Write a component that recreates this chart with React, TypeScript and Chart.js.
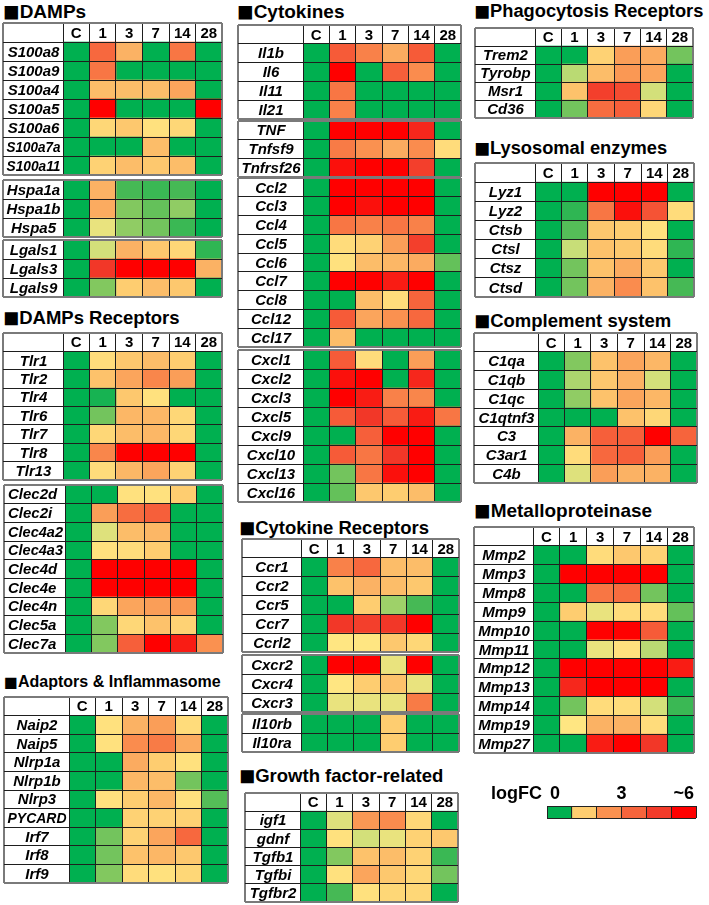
import React, { useEffect, useRef } from 'react';
import { Chart, registerables } from 'chart.js';
Chart.register(...registerables);

// ---------- data ----------
const timeLabels = ['C', '1', '3', '7', '14', '28'];

const s100Genes = ['S100a8', 'S100a9', 'S100a4', 'S100a5', 'S100a6', 'S100a7a', 'S100a11'];
const s100LogFC = [
  [0, 3.3, 2.0, 0, 3.0, 0],
  [0, 3.0, 0, 0, 0, 0],
  [0, 1.8, 1.8, 1.8, 2.2, 0],
  [0, 5.5, 0, 0, 0, 5.5],
  [0, 1.3, 1.6, 1.1, 1.3, 0],
  [0, 0, 0, 1.8, 0, 0],
  [0, 1.4, 1.8, 1.6, 1.8, 0],
];
const hspGenes = ['Hspa1a', 'Hspa1b', 'Hspa5'];
const hspLogFC = [
  [0, 2.0, 0.3, 0.25, 0.3, 0],
  [0, 2.1, 0.5, 0.4, 0.55, 0],
  [0, 0.9, 0.55, 0.45, 0.25, 0],
];
const lgalsGenes = ['Lgals1', 'Lgals3', 'Lgals9'];
const lgalsLogFC = [
  [0, 0.8, 2.0, 1.6, 1.3, 0.2],
  [0, 4.5, 5.5, 5.5, 5.5, 2.0],
  [0, 0.5, 1.5, 1.8, 1.6, 0],
];
const tlrGenes = ['Tlr1', 'Tlr2', 'Tlr4', 'Tlr6', 'Tlr7', 'Tlr8', 'Tlr13'];
const tlrLogFC = [
  [0, 1.2, 1.6, 1.8, 1.5, 0],
  [0, 1.7, 2.2, 2.7, 2.3, 0],
  [0, 0.1, 1.6, 1.1, 0, 0],
  [0, 0.45, 1.9, 1.9, 1.3, 0],
  [0, 1.3, 1.8, 1.9, 1.3, 0],
  [0, 2.7, 5.5, 5.5, 5.5, 0],
  [0, 1.2, 1.9, 2.2, 1.4, 0],
];
const clecGenes = ['Clec2d', 'Clec2i', 'Clec4a2', 'Clec4a3', 'Clec4d', 'Clec4e', 'Clec4n', 'Clec5a', 'Clec7a'];
const clecLogFC = [
  [0, 0, 1.1, 1.1, 1.5, 0],
  [0, 2.3, 3.2, 3.5, 0, 0],
  [0, 0.85, 1.8, 1.9, 0, 0],
  [0, 1.1, 1.2, 1.5, 0, 0],
  [0, 5.5, 5.5, 5.5, 5.5, 0],
  [0, 5.5, 5.5, 5.5, 5.5, 0],
  [0, 1.3, 2.2, 2.3, 2.4, 0],
  [0, 0.5, 1.3, 1.7, 1.4, 0],
  [0, 0.5, 3.5, 5.5, 5.0, 2.5],
];
const adaptorGenes = ['Naip2', 'Naip5', 'Nlrp1a', 'Nlrp1b', 'Nlrp3', 'PYCARD', 'Irf7', 'Irf8', 'Irf9'];
const adaptorLogFC = [
  [0, 1.1, 2.0, 2.3, 1.2, 0],
  [0, 1.1, 2.6, 2.9, 2.1, 0],
  [0, 0, 2.1, 1.5, 1.1, 0],
  [0, 0, 1.9, 1.8, 0.45, 0],
  [0, 1.1, 1.5, 1.9, 1.1, 0.35],
  [0, 0, 1.4, 1.4, 1.4, 0],
  [0, 0.45, 1.4, 2.2, 3.3, 0],
  [0, 0.45, 1.7, 1.9, 1.6, 0],
  [0, 0.5, 1.2, 1.1, 1.3, 0],
];
const ilGenes = ['Il1b', 'Il6', 'Il11', 'Il21'];
const ilLogFC = [
  [0, 3.6, 2.8, 2.1, 3.6, 0],
  [0, 5.5, 0, 3.5, 2.6, 0],
  [0, 3.0, 0, 0, 0, 0],
  [0, 2.8, 0, 0, 0, 0],
];
const tnfGenes = ['TNF', 'Tnfsf9', 'Tnfrsf26'];
const tnfLogFC = [
  [0, 5.5, 5.5, 5.5, 4.8, 0],
  [0, 2.9, 2.5, 2.1, 2.6, 1.2],
  [0, 5.2, 5.5, 5.5, 4.3, 0],
];
const cclGenes = ['Ccl2', 'Ccl3', 'Ccl4', 'Ccl5', 'Ccl6', 'Ccl7', 'Ccl8', 'Ccl12', 'Ccl17'];
const cclLogFC = [
  [0, 5.5, 5.5, 5.5, 5.5, 0],
  [0, 5.5, 5.2, 5.5, 5.5, 0],
  [0, 3.0, 2.8, 3.0, 2.8, 0],
  [0, 1.2, 1.4, 2.3, 4.3, 0],
  [0, 1.1, 1.8, 1.9, 2.1, 0.4],
  [0, 5.5, 5.5, 5.0, 5.5, 0],
  [0, 0, 1.8, 1.2, 3.4, 0],
  [0, 3.6, 2.2, 2.5, 3.3, 0],
  [0, 1.8, 0, 0, 0, 0],
];
const cxclGenes = ['Cxcl1', 'Cxcl2', 'Cxcl3', 'Cxcl5', 'Cxcl9', 'Cxcl10', 'Cxcl13', 'Cxcl16'];
const cxclLogFC = [
  [0, 3.6, 1.2, 0, 2.3, 0],
  [0, 5.2, 5.5, 0, 4.8, 0],
  [0, 5.5, 5.0, 2.8, 2.7, 0],
  [0, 3.6, 4.5, 3.6, 5.0, 3.0],
  [0, 0, 3.5, 5.5, 5.5, 0],
  [0, 3.6, 3.0, 4.5, 5.5, 0],
  [0, 0.45, 3.0, 5.2, 5.5, 0],
  [0, 0.4, 1.6, 1.5, 1.8, 0],
];
const ccrGenes = ['Ccr1', 'Ccr2', 'Ccr5', 'Ccr7', 'Ccrl2'];
const ccrLogFC = [
  [0, 2.8, 3.3, 1.8, 1.8, 0],
  [0, 1.7, 2.0, 1.8, 1.6, 0],
  [0, 0, 1.5, 0.6, 0.3, 0],
  [0, 4.5, 4.3, 4.5, 5.5, 0],
  [0, 1.0, 1.0, 1.6, 1.3, 0],
];
const cxcrGenes = ['Cxcr2', 'Cxcr4', 'Cxcr3'];
const cxcrLogFC = [
  [0, 5.5, 5.5, 0.9, 5.5, 0],
  [0, 1.0, 1.5, 1.7, 0.9, 0],
  [0, 0.9, 0.9, 0.9, 2.9, 0],
];
const il10Genes = ['Il10rb', 'Il10ra'];
const il10LogFC = [
  [0, 0, 0, 1.5, 0, 0],
  [0, 0, 0, 1.5, 0, 0],
];
const growthGenes = ['igf1', 'gdnf', 'Tgfb1', 'Tgfbi', 'Tgfbr2'];
const growthLogFC = [
  [0, 0.85, 2.4, 2.6, 1.3, 0],
  [0, 1.1, 0.8, 0.9, 1.4, 1.6],
  [0, 0.5, 1.7, 1.8, 1.4, 0.25],
  [0, 1.1, 2.2, 1.6, 1.3, 0.45],
  [0, 0.3, 1.1, 1.3, 1.3, 0],
];
const phagoGenes = ['Trem2', 'Tyrobp', 'Msr1', 'Cd36'];
const phagoLogFC = [
  [0, 0, 1.4, 2.3, 2.1, 0.45],
  [0, 0.7, 1.8, 2.4, 2.2, 0],
  [0, 1.7, 4.3, 4.0, 0.8, 0],
  [0, 0.45, 3.2, 3.5, 1.3, 0],
];
const lysoGenes = ['Lyz1', 'Lyz2', 'Ctsb', 'Ctsl', 'Ctsz', 'Ctsd'];
const lysoLogFC = [
  [0, 0, 5.5, 5.5, 5.5, 0],
  [0, 0.2, 3.0, 5.2, 3.8, 1.2],
  [0, 0.35, 1.6, 1.5, 1.1, 0],
  [0, 0.75, 1.7, 1.6, 1.2, 0.2],
  [0, 0.45, 1.7, 2.1, 1.6, 0],
  [0, 0.45, 2.0, 2.6, 1.7, 0.3],
];
const complGenes = ['C1qa', 'C1qb', 'C1qc', 'C1qtnf3', 'C3', 'C3ar1', 'C4b'];
const complLogFC = [
  [0, 0.5, 1.7, 2.2, 1.9, 0],
  [0, 0.65, 1.6, 2.0, 0.8, 0],
  [0, 0.55, 1.7, 2.2, 1.9, 0],
  [0, 0, 0, 1.7, 1.3, 0],
  [0, 2.0, 3.5, 3.5, 5.5, 3.4],
  [0, 1.2, 3.3, 3.5, 2.3, 0],
  [0, 0.85, 2.3, 2.0, 2.0, 0],
];
const mmpGenes = ['Mmp2', 'Mmp3', 'Mmp8', 'Mmp9', 'Mmp10', 'Mmp11', 'Mmp12', 'Mmp13', 'Mmp14', 'Mmp19', 'Mmp27'];
const mmpLogFC = [
  [0, 0, 1.2, 1.6, 1.4, 0],
  [0, 5.5, 5.5, 5.5, 5.5, 0],
  [0, 0, 3.0, 3.2, 0.45, 0],
  [0, 1.5, 0.9, 1.2, 1.2, 0.4],
  [0, 0, 5.5, 5.5, 3.6, 0],
  [0, 0, 0.9, 1.1, 0.7, 0],
  [0, 5.5, 5.5, 5.5, 5.5, 5.0],
  [0, 4.8, 5.5, 5.5, 5.5, 0],
  [0, 0.45, 1.2, 1.2, 0.8, 0.25],
  [0, 1.0, 2.0, 2.0, 1.2, 0],
  [0, 0, 5.0, 5.5, 4.5, 0],
];
const legendLabel = 'logFC';
const legendTickLabels = ['0', '3', '~6'];
const legendLogFC = [0, 1.5, 2.5, 3.4, 4.4, 5.5];

const panelTitles = [
  '■DAMPs', '■DAMPs Receptors', '■Adaptors & Inflammasome', '■Cytokines',
  '■Cytokine Receptors', '■Growth factor-related', '■Phagocytosis Receptors',
  '■Lysosomal enzymes', '■Complement system', '■Metalloproteinase',
];

// ---------- styles ----------
const STOP_V = [0, 0.3, 0.5, 0.75, 1, 1.5, 2, 2.5, 3, 3.5, 4.5, 5.5];
const STOP_C = [
  [0, 176, 80], [70, 185, 85], [130, 200, 95], [200, 222, 120], [255, 230, 130],
  [254, 205, 112], [251, 178, 100], [250, 145, 80], [248, 118, 68], [246, 95, 58],
  [242, 55, 40], [255, 0, 0],
];
function heatColor(v: number): string {
  const toS = (c: number[]) => `rgb(${Math.round(c[0])},${Math.round(c[1])},${Math.round(c[2])})`;
  if (v <= STOP_V[0]) return toS(STOP_C[0]);
  for (let i = 1; i < STOP_V.length; i++) {
    if (v <= STOP_V[i]) {
      const t = (v - STOP_V[i - 1]) / (STOP_V[i] - STOP_V[i - 1]);
      const a = STOP_C[i - 1], b = STOP_C[i];
      return toS([a[0] + (b[0] - a[0]) * t, a[1] + (b[1] - a[1]) * t, a[2] + (b[2] - a[2]) * t]);
    }
  }
  return toS(STOP_C[STOP_C.length - 1]);
}
const FONT = '"Liberation Sans", Arial, sans-serif';
const LINE_DARK = '#1e1e1e';
const LINE_EDGE = '#7a7a7a';

type Box = { x: number; y: number; w: number; h: number; labelW: number };

function gridOpts(isEdge: (c: any) => boolean) {
  return {
    z: 1,
    drawTicks: false,
    color: (c: any) => (isEdge(c) ? LINE_EDGE : LINE_DARK),
    lineWidth: (c: any) => (isEdge(c) ? 2 : 1),
  };
}

function HeatTable({ box, genes, values, header, align }: { box: Box; genes: string[]; values: number[][]; header: boolean; align: 'center' | 'left' }) {
  const ref = useRef<HTMLCanvasElement>(null);
  useEffect(() => {
    const canvas = ref.current as HTMLCanvasElement;
    const rows = header ? [''].concat(genes) : genes.slice();
    const off = header ? 1 : 0;
    const colW = (box.w - box.labelW) / timeLabels.length;
    const L = box.labelW / colW;
    const datasets: any[] = [{ label: 'gene', data: rows.map(() => L), backgroundColor: '#ffffff' }];
    timeLabels.forEach((t, j) => {
      datasets.push({
        label: t,
        data: rows.map(() => 1),
        backgroundColor: rows.map((_, i) => (i < off ? '#ffffff' : heatColor(values[i - off][j]))),
      });
    });
    const xTicks = [0].concat(timeLabels.map((_, j) => L + j)).concat([L + timeLabels.length]);
    const textPlugin = {
      id: 'cellText',
      afterDraw(chart: any) {
        const ctx = chart.ctx;
        ctx.save();
        ctx.fillStyle = '#000';
        ctx.textBaseline = 'middle';
        ctx.font = `italic bold 15px ${FONT}`;
        chart.getDatasetMeta(0).data.forEach((el: any, i: number) => {
          if (i < off) return;
          const left = Math.min(el.x, el.base), right = Math.max(el.x, el.base);
          if (align === 'left') {
            ctx.textAlign = 'left';
            ctx.fillText(rows[i], left + 3, el.y + 1, right - left - 5);
          } else {
            ctx.textAlign = 'center';
            ctx.fillText(rows[i], (left + right) / 2, el.y + 1, right - left - 5);
          }
        });
        if (header) {
          ctx.font = `bold 15px ${FONT}`;
          ctx.textAlign = 'center';
          timeLabels.forEach((t, j) => {
            const el: any = chart.getDatasetMeta(j + 1).data[0];
            ctx.fillText(t, (el.x + el.base) / 2, el.y + 1, Math.abs(el.x - el.base) - 2);
          });
        }
        ctx.restore();
      },
    };
    const chart = new Chart(canvas, {
      type: 'bar',
      data: { labels: rows, datasets },
      options: {
        indexAxis: 'y',
        animation: false,
        responsive: false,
        events: [],
        layout: { padding: 1 },
        datasets: { bar: { barPercentage: 1, categoryPercentage: 1, borderWidth: 0 } },
        plugins: { legend: { display: false }, tooltip: { enabled: false } },
        scales: {
          x: {
            type: 'linear',
            stacked: true,
            min: 0,
            max: L + timeLabels.length,
            afterBuildTicks: (s: any) => {
              s.ticks = xTicks.map((v) => ({ value: v }));
            },
            ticks: { display: false },
            grid: gridOpts((c) => c.type !== 'tick' || c.index === 0 || c.index === xTicks.length - 1),
            border: { display: false },
          },
          y: {
            type: 'category',
            stacked: true,
            offset: true,
            ticks: { display: false },
            grid: { ...gridOpts((c) => c.type !== 'tick' || c.index === 0), offset: true },
            border: { display: false },
          },
        },
      } as any,
      plugins: [textPlugin],
    });
    return () => chart.destroy();
  }, []);
  return (
    <canvas
      ref={ref}
      width={box.w + 2}
      height={box.h + 2}
      style={{ position: 'absolute', left: box.x - 1, top: box.y - 1, width: box.w + 2, height: box.h + 2 }}
    />
  );
}

function LegendBar() {
  const ref = useRef<HTMLCanvasElement>(null);
  useEffect(() => {
    const canvas = ref.current as HTMLCanvasElement;
    const n = legendLogFC.length;
    const datasets = legendLogFC.map((v, j) => ({ label: 'c' + j, data: [1], backgroundColor: heatColor(v) }));
    const ticks = legendLogFC.map((_, j) => j).concat([n]);
    const textPlugin = {
      id: 'legendText',
      afterDraw(chart: any) {
        const ctx = chart.ctx;
        const sx = chart.scales.x;
        const yb = chart.chartArea.top - 7;
        ctx.save();
        ctx.fillStyle = '#000';
        ctx.textBaseline = 'alphabetic';
        ctx.font = `bold 18px ${FONT}`;
        ctx.textAlign = 'right';
        ctx.fillText(legendLabel, sx.getPixelForValue(0) - 5, yb);
        ctx.textAlign = 'left';
        ctx.fillText(legendTickLabels[0], sx.getPixelForValue(0) + 3, yb);
        ctx.textAlign = 'center';
        ctx.fillText(legendTickLabels[1], sx.getPixelForValue(3), yb);
        ctx.textAlign = 'right';
        ctx.fillText(legendTickLabels[2], sx.getPixelForValue(n) - 2, yb);
        ctx.restore();
      },
    };
    const chart = new Chart(canvas, {
      type: 'bar',
      data: { labels: ['logFC'], datasets },
      options: {
        indexAxis: 'y',
        animation: false,
        responsive: false,
        events: [],
        layout: { padding: { left: 67, top: 26, right: 9, bottom: 7 } },
        datasets: { bar: { barPercentage: 1, categoryPercentage: 1, borderWidth: 0 } },
        plugins: { legend: { display: false }, tooltip: { enabled: false } },
        scales: {
          x: {
            type: 'linear',
            stacked: true,
            min: 0,
            max: n,
            afterBuildTicks: (s: any) => {
              s.ticks = ticks.map((v) => ({ value: v }));
            },
            ticks: { display: false },
            grid: { z: 1, drawTicks: false, color: '#222', lineWidth: 1 },
            border: { display: false },
          },
          y: {
            type: 'category',
            stacked: true,
            offset: true,
            ticks: { display: false },
            grid: { z: 1, drawTicks: false, offset: true, color: '#222', lineWidth: 1 },
            border: { display: false },
          },
        },
      } as any,
      plugins: [textPlugin],
    });
    return () => chart.destroy();
  }, []);
  return <canvas ref={ref} width={225} height={45} style={{ position: 'absolute', left: 480, top: 780, width: 225, height: 45 }} />;
}

// ---------- layout ----------
const titlePos = [
  { x: 3, y: 2, size: 19 },
  { x: 3, y: 309, size: 18.5 },
  { x: 4, y: 674, size: 16 },
  { x: 237, y: 2, size: 19 },
  { x: 239, y: 519, size: 18.5 },
  { x: 239, y: 767, size: 18.5 },
  { x: 474, y: 2, size: 18.3 },
  { x: 474, y: 139, size: 18.3 },
  { x: 474, y: 312, size: 18.5 },
  { x: 474, y: 501, size: 19 },
];

const tables: { box: Box; genes: string[]; values: number[][]; header: boolean; align: 'center' | 'left' }[] = [
  { box: { x: 3, y: 23, w: 219, h: 152, labelW: 60 }, genes: s100Genes, values: s100LogFC, header: true, align: 'center' },
  { box: { x: 3, y: 180, w: 219, h: 57, labelW: 60 }, genes: hspGenes, values: hspLogFC, header: false, align: 'center' },
  { box: { x: 3, y: 240, w: 219, h: 57, labelW: 60 }, genes: lgalsGenes, values: lgalsLogFC, header: false, align: 'center' },
  { box: { x: 3, y: 333, w: 219, h: 147, labelW: 60 }, genes: tlrGenes, values: tlrLogFC, header: true, align: 'center' },
  { box: { x: 4, y: 485, w: 219, h: 168, labelW: 61 }, genes: clecGenes, values: clecLogFC, header: false, align: 'left' },
  { box: { x: 4, y: 697, w: 224, h: 186, labelW: 65 }, genes: adaptorGenes, values: adaptorLogFC, header: true, align: 'center' },
  { box: { x: 238, y: 25, w: 223, h: 94, labelW: 65 }, genes: ilGenes, values: ilLogFC, header: true, align: 'center' },
  { box: { x: 238, y: 121, w: 223, h: 56, labelW: 65 }, genes: tnfGenes, values: tnfLogFC, header: false, align: 'center' },
  { box: { x: 238, y: 178, w: 223, h: 169, labelW: 65 }, genes: cclGenes, values: cclLogFC, header: false, align: 'center' },
  { box: { x: 238, y: 350, w: 223, h: 152, labelW: 65 }, genes: cxclGenes, values: cxclLogFC, header: false, align: 'center' },
  { box: { x: 242, y: 539, w: 217, h: 113, labelW: 59 }, genes: ccrGenes, values: ccrLogFC, header: true, align: 'center' },
  { box: { x: 242, y: 655, w: 217, h: 57, labelW: 59 }, genes: cxcrGenes, values: cxcrLogFC, header: false, align: 'center' },
  { box: { x: 242, y: 714, w: 217, h: 38, labelW: 59 }, genes: il10Genes, values: il10LogFC, header: false, align: 'center' },
  { box: { x: 245, y: 793, w: 213, h: 109, labelW: 55 }, genes: growthGenes, values: growthLogFC, header: true, align: 'center' },
  { box: { x: 475, y: 28, w: 218, h: 90, labelW: 60 }, genes: phagoGenes, values: phagoLogFC, header: true, align: 'center' },
  { box: { x: 475, y: 163, w: 219, h: 134, labelW: 60 }, genes: lysoGenes, values: lysoLogFC, header: true, align: 'center' },
  { box: { x: 474, y: 333, w: 223, h: 150, labelW: 64 }, genes: complGenes, values: complLogFC, header: true, align: 'center' },
  { box: { x: 474, y: 527, w: 220, h: 226, labelW: 59 }, genes: mmpGenes, values: mmpLogFC, header: true, align: 'center' },
];

export default function App() {
  return (
    <div style={{ position: 'absolute', left: 0, top: 0, width: 709, height: 905, background: '#fff', overflow: 'hidden' }}>
      {panelTitles.map((t, i) => {
        const p = titlePos[i];
        return (
          <div
            key={t}
            style={{
              position: 'absolute',
              left: p.x,
              top: p.y,
              font: `bold ${p.size}px ${FONT}`,
              lineHeight: `${p.size}px`,
              whiteSpace: 'nowrap',
              color: '#000',
            }}
          >
            <span style={{ fontSize: p.size * 1.45, lineHeight: 0, verticalAlign: '-3px' }}>{t.slice(0, 1)}</span>
            {t.slice(1)}
          </div>
        );
      })}
      {tables.map((t, i) => (
        <HeatTable key={i} box={t.box} genes={t.genes} values={t.values} header={t.header} align={t.align} />
      ))}
      <LegendBar />
    </div>
  );
}
